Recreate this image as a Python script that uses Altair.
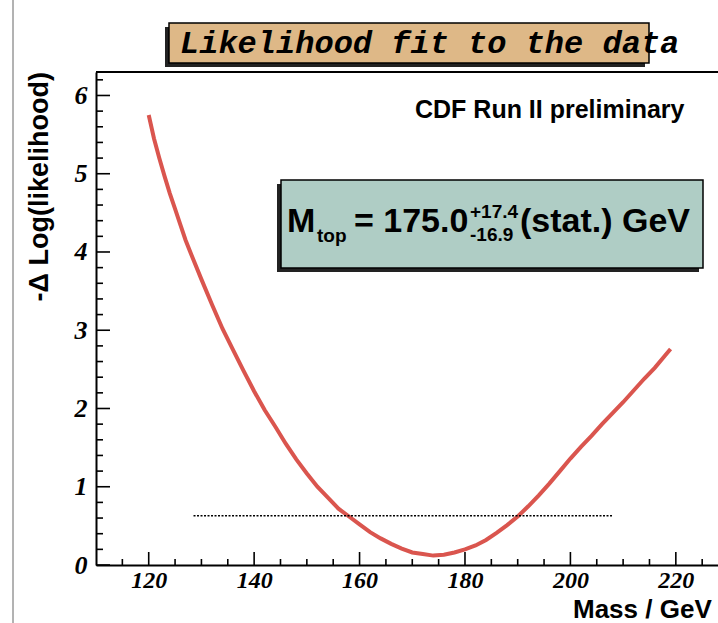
import altair as alt
import pandas as pd

# ---- data ----
mass = [120, 121, 122, 123, 124, 125, 126, 127, 128, 130, 132, 134, 136, 138, 140,
        142, 144, 146, 148, 150, 152, 154, 156, 158, 160, 162, 164, 166, 168, 170,
        172, 174, 176, 178, 180, 182, 184, 186, 188, 190, 192, 194, 196, 198, 200,
        202, 204, 206, 208, 210, 212, 214, 216, 218, 219]
dlnl = [5.75, 5.45, 5.20, 4.97, 4.75, 4.55, 4.35, 4.15, 3.98, 3.65, 3.33, 3.02, 2.75, 2.48, 2.22,
        1.98, 1.77, 1.55, 1.35, 1.17, 1.00, 0.86, 0.72, 0.62, 0.52, 0.42, 0.34, 0.27, 0.21, 0.16,
        0.14, 0.12, 0.13, 0.16, 0.20, 0.25, 0.32, 0.41, 0.51, 0.62, 0.75, 0.89, 1.04, 1.20, 1.36,
        1.51, 1.65, 1.80, 1.94, 2.08, 2.23, 2.38, 2.52, 2.68, 2.76]

half_unit_start = [128.5]
half_unit_end = [208.0]
half_unit_level = [0.63]

x_major = [120, 140, 160, 180, 200, 220]
x_minor = [115, 125, 130, 135, 145, 150, 155, 165, 170, 175, 185, 190, 195,
           205, 210, 215, 225]
y_major = [0, 1, 2, 3, 4, 5, 6]
y_minor = [0.2, 0.4, 0.6, 0.8, 1.2, 1.4, 1.6, 1.8, 2.2, 2.4, 2.6, 2.8,
           3.2, 3.4, 3.6, 3.8, 4.2, 4.4, 4.6, 4.8, 5.2, 5.4, 5.6, 5.8, 6.2]

title_text = "Likelihood fit to the data"
exp_text = "CDF Run II preliminary"

# ---- layout ----
W, H = 622, 493
RED = "#da554e"
TEAL = "#afcdc5"
TAN = "#deb887"
XS = alt.Scale(domain=[110, 228], nice=False, zero=False)
YS = alt.Scale(domain=[0, 6.3], nice=False, zero=False)

lab = dict(labelFont="Liberation Serif", labelFontStyle="italic", labelFontWeight="bold",
           labelColor="black", ticks=False, tickSize=0, grid=False,
           domainColor="black", domainWidth=2, title=None)
XA = alt.Axis(values=x_major, labelPadding=3, labelFontSize=24, **lab)
YA = alt.Axis(values=y_major, labelPadding=9, labelFontSize=26, **lab)

curve_df = pd.DataFrame({"mass": mass, "dlnl": dlnl})
curve = alt.Chart(curve_df).mark_line(color=RED, strokeWidth=4).encode(
    x=alt.X("mass:Q", scale=XS, axis=XA),
    y=alt.Y("dlnl:Q", scale=YS, axis=YA),
)

dl_df = pd.DataFrame({"x": half_unit_start, "x2": half_unit_end, "y": half_unit_level})
dotted = alt.Chart(dl_df).mark_rule(color="black", strokeWidth=1.5, strokeDash=[2, 1.5]).encode(
    x=alt.X("x:Q", scale=XS, axis=XA), x2="x2:Q", y=alt.Y("y:Q", scale=YS, axis=YA))

def xticks(vals, length):
    return alt.Chart(pd.DataFrame({"v": vals})).mark_rule(color="black", strokeWidth=1.6).encode(
        x=alt.X("v:Q", scale=XS, axis=XA), y=alt.value(H), y2=alt.value(H - length))

def yticks(vals, length):
    return alt.Chart(pd.DataFrame({"v": vals})).mark_rule(color="black", strokeWidth=1.6).encode(
        y=alt.Y("v:Q", scale=YS, axis=YA), x=alt.value(0), x2=alt.value(length))

one = pd.DataFrame({"a": [0]})

def rect(x, x2, y, y2, fill, stroke=None):
    kw = dict(fill=fill)
    if stroke:
        kw.update(stroke=stroke, strokeWidth=1.5)
    return alt.Chart(one).mark_rect(**kw).encode(
        x=alt.value(x), x2=alt.value(x2), y=alt.value(y), y2=alt.value(y2))

def text(t, x, y, size, font="Liberation Sans", weight="bold", style="normal",
         align="left", baseline="alphabetic", angle=0):
    return alt.Chart(one).mark_text(
        text=t, font=font, fontSize=size, fontWeight=weight, fontStyle=style,
        align=align, baseline=baseline, angle=angle, color="black").encode(
        x=alt.value(x), y=alt.value(y))

frame_top = alt.Chart(one).mark_rule(color="black", strokeWidth=2).encode(
    x=alt.value(0), x2=alt.value(W), y=alt.value(0))
left_edge = alt.Chart(one).mark_rule(color="#666666", strokeWidth=1).encode(
    x=alt.value(-83), y=alt.value(-72), y2=alt.value(H + 58))

# title pave
title_layers = [
    rect(69, 549, -45, -5, "#222222"),
    rect(73, 553, -49, -9, TAN, "black"),
    text(title_text, 84, -19, 32, font="Liberation Mono", style="italic"),
]

# result pave
MB = 160  # main baseline (relative)
res_layers = [
    rect(181, 603, 112, 200, "#222222"),
    rect(185, 607, 108, 196, TEAL, "black"),
    text("M", 191, MB, 34),
    text("top", 221, MB + 10, 19),
    text("= 175.0", 258, MB, 34),
    text("+17.4", 374, MB - 14, 19),
    text("-16.9", 374, MB + 9, 19),
    text("(stat.)", 424, MB, 34),
    text("GeV", 526, MB, 34),
]

other_text = [
    text(exp_text, 319, 46, 25),
    text("-\u0394 Log(likelihood)", -56, 0, 27, align="right", baseline="middle", angle=270),
    text("Mass / GeV", 477, 545.5, 26),
]

layers = ([curve, dotted,
           xticks(x_major, 13), xticks(x_minor, 6),
           yticks(y_major, 14), yticks(y_minor, 7),
           frame_top, left_edge]
          + title_layers + res_layers + other_text)

chart = alt.layer(*layers).properties(
    width=W, height=H,
    autosize=alt.AutoSizeParams(type="none"),
    padding={"left": 96, "top": 72, "right": 0, "bottom": 58},
    background="white",
).configure_view(strokeWidth=0)

chart.save("out.html", embed_options={"renderer": "svg", "actions": False})
